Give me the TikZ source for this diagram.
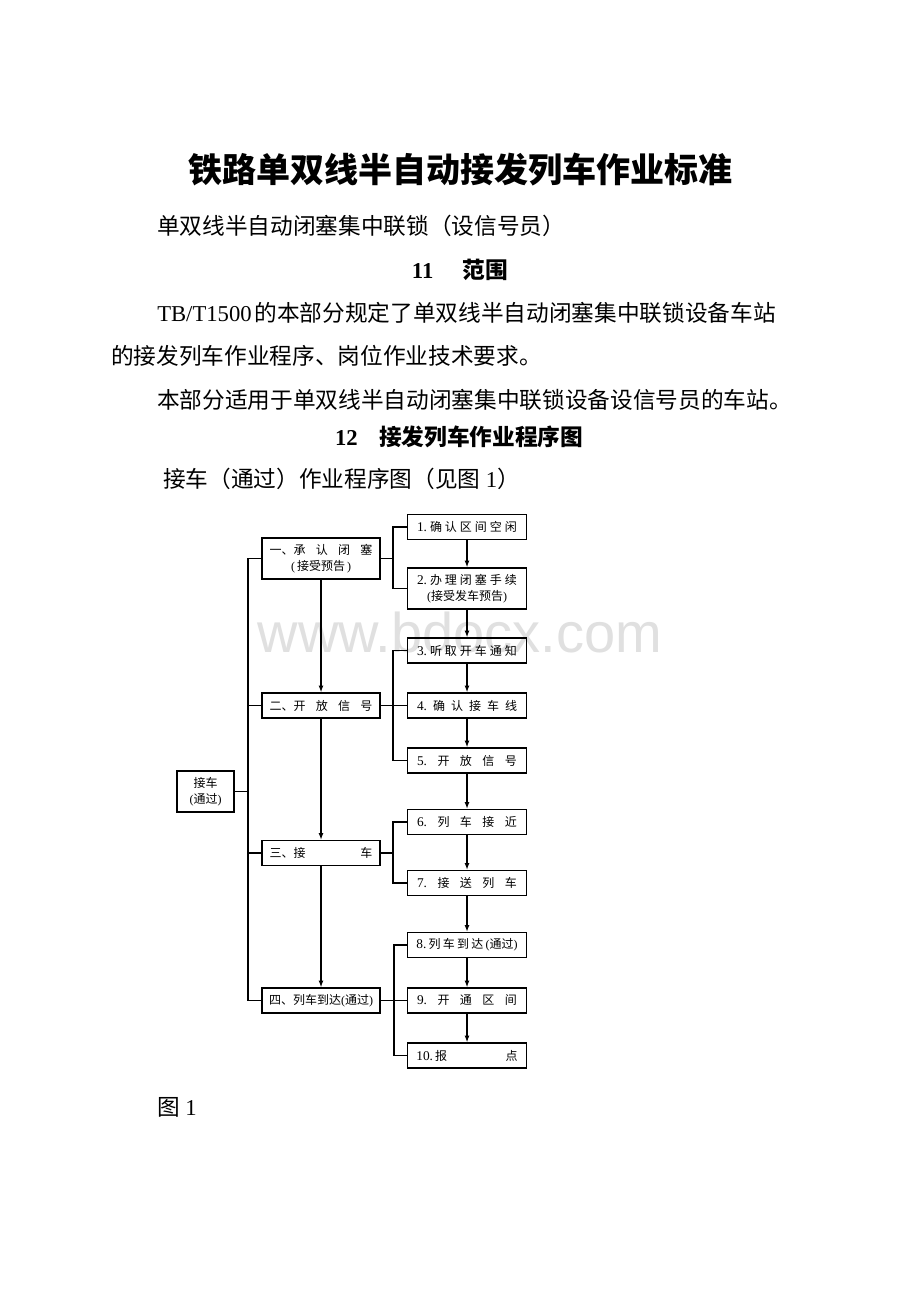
\documentclass[tikz,border=0pt]{standalone}
\usepackage{fontspec}
\setmainfont{Liberation Serif}
\newfontfamily\cjk{Noto Sans CJK SC}
\newfontfamily\wmfont{Liberation Sans}
\usetikzlibrary{arrows.meta}
\newcommand{\spr}[2]{\makebox[#1][s]{#2}}
\newcommand{\dg}[1]{{\rmfamily\fontsize{10pt}{12pt}\selectfont #1}}
\begin{document}
\begin{tikzpicture}[x=0.75pt,y=-0.75pt,
  body/.style={font=\cjk\fontsize{17pt}{20pt}\selectfont, inner sep=0pt, anchor=west},
  head/.style={font=\cjk\bfseries\fontsize{17pt}{20pt}\selectfont, inner sep=0pt},
  box/.style={draw, line width=0.9pt, inner sep=0pt, align=center,
    font=\cjk\fontsize{9pt}{12pt}\selectfont},
  lbox/.style={box, minimum width=88.5pt},
  rbox/.style={box, minimum width=89.25pt},
  short/.style={minimum height=18.75pt},
  tall/.style={minimum height=30.75pt},
  ln/.style={line width=0.9pt},
  arr/.style={line width=0.9pt, -{Latex[length=5pt,width=3.6pt]}}]
\useasboundingbox (0,0) rectangle (920,1302);
\fill[white] (0,0) rectangle (920,1302);
% watermark
\node[font=\wmfont\fontsize{42pt}{42pt}\selectfont, text=black!12, inner sep=0pt] (wm) at (460,632) {www.bdocx.com};
% texts
\node[font=\cjk\bfseries\fontsize{25.5pt}{30pt}\selectfont, inner sep=0pt] (title) at (460,170) {铁路单双线半自动接发列车作业标准};
\node[body] (t1) at (157,226) {单双线半自动闭塞集中联锁（设信号员）};
\node[head] (h11) at (460,270) {\textrm{\bfseries 11}\hspace{22pt}范围};
\node[body] (t2) at (157,313) {\textrm{TB/T1500}\hspace{2pt}的本部分规定了单双线半自动闭塞集中联锁设备车站};
\node[body] (t3) at (111,356) {的接发列车作业程序、岗位作业技术要求。};
\node[body] (t4) at (157,400) {本部分适用于单双线半自动闭塞集中联锁设备设信号员的车站。};
\node[head] (h12) at (459,437) {\textrm{\bfseries 12}\hspace{16pt}接发列车作业程序图};
\node[body] (t5) at (163,479) {接车（通过）作业程序图（见图\hspace{4pt}\textrm{1}）};
\node[body] (fig) at (157,1107) {图\hspace{4pt}\textrm{1}};
% boxes
\node[box, minimum width=42.75pt, minimum height=30.75pt] (jc) at (205.5,791.5) {接车\\\textrm{(}通过\textrm{)}};
\node[lbox, tall] (A) at (321,558.5) {\spr{77pt}{一、承\hfill 认\hfill 闭\hfill 塞}\\\textrm{(}\,接受预告\,\textrm{)}};
\node[lbox, short] (B) at (321,705.5) {\spr{77pt}{二、开\hfill 放\hfill 信\hfill 号}};
\node[lbox, short] (C) at (321,853) {\spr{77pt}{三、接\hfill 车}};
\node[lbox, short] (D) at (321,1000.5) {四、列车到达\textrm{(}通过\textrm{)}};
\node[rbox, short] (r1) at (467,527) {\spr{75pt}{\dg{1.}\hfill 确\hfill 认\hfill 区\hfill 间\hfill 空\hfill 闲}};
\node[rbox, tall] (r2) at (467,588.5) {\spr{75pt}{\dg{2.}\hfill 办\hfill 理\hfill 闭\hfill 塞\hfill 手\hfill 续}\\\textrm{(}接受发车预告\textrm{)}};
\node[rbox, short] (r3) at (467,650.5) {\spr{75pt}{\dg{3.}\hfill 听\hfill 取\hfill 开\hfill 车\hfill 通\hfill 知}};
\node[rbox, short] (r4) at (467,705.5) {\spr{75pt}{\dg{4.}\hfill 确\hfill 认\hfill 接\hfill 车\hfill 线}};
\node[rbox, short] (r5) at (467,760.5) {\spr{75pt}{\dg{5.}\hfill 开\hfill 放\hfill 信\hfill 号}};
\node[rbox, short] (r6) at (467,822) {\spr{75pt}{\dg{6.}\hfill 列\hfill 车\hfill 接\hfill 近}};
\node[rbox, short] (r7) at (467,883) {\spr{75pt}{\dg{7.}\hfill 接\hfill 送\hfill 列\hfill 车}};
\node[rbox, short] (r8) at (467,945) {\spr{76pt}{\dg{8.}\hfill 列\hfill 车\hfill 到\hfill 达\hfill \textrm{(}通过\textrm{)}}};
\node[rbox, short] (r9) at (467,1000.5) {\spr{75pt}{\dg{9.}\hfill 开\hfill 通\hfill 区\hfill 间}};
\node[rbox, short] (r10) at (467,1055.5) {\spr{76pt}{\dg{10.}\,报\hfill 点}};
% trunk
\coordinate (m) at (248,791.5);
\draw[ln] (jc.east) -- (m);
\draw[ln] (A.west) -| (m) |- (D.west);
\draw[ln] (B.west) -- (B.west -| m);
\draw[ln] (C.west) -- (C.west -| m);
% left chain
\draw[arr] (A) -- (B);
\draw[arr] (B) -- (C);
\draw[arr] (C) -- (D);
% right chain
\draw[arr] (r1) -- (r2);
\draw[arr] (r2) -- (r3);
\draw[arr] (r3) -- (r4);
\draw[arr] (r4) -- (r5);
\draw[arr] (r5) -- (r6);
\draw[arr] (r6) -- (r7);
\draw[arr] (r7) -- (r8);
\draw[arr] (r8) -- (r9);
\draw[arr] (r9) -- (r10);
% brackets
\coordinate (bA) at (393,558.5);
\coordinate (bB) at (393,705.5);
\coordinate (bC) at (393,853);
\coordinate (bD) at (394,1000.5);
\draw[ln] (A.east) -- (bA);
\draw[ln] (r1.west) -| (bA) |- (r2.west);
\draw[ln] (B.east) -- (r4.west);
\draw[ln] (r3.west) -| (bB) |- (r5.west);
\draw[ln] (C.east) -- (bC);
\draw[ln] (r6.west) -| (bC) |- (r7.west);
\draw[ln] (D.east) -- (r9.west);
\draw[ln] (r8.west) -| (bD) |- (r10.west);
\end{tikzpicture}
\end{document}
